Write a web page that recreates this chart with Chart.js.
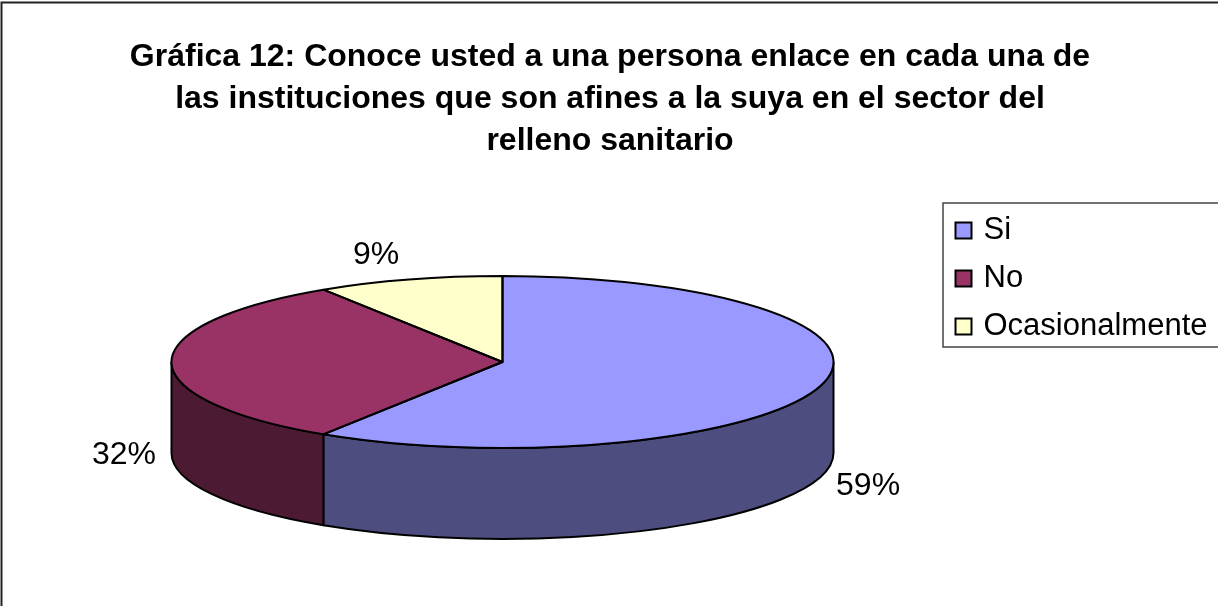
<!DOCTYPE html>
<html><head><meta charset="utf-8">
<style>html,body{margin:0;padding:0;background:#fff}canvas{display:block}</style>
<script src="https://cdn.jsdelivr.net/npm/chart.js@4"></script>
</head><body>
<div style="width:1218px;height:606px"><canvas id="c" width="1218" height="606"></canvas></div>
<script>
const titleLines = ["Gráfica 12: Conoce usted a una persona enlace en cada una de","las instituciones que son afines a la suya en el sector del","relleno sanitario"];
const categories = ["Si","No","Ocasionalmente"];
const values = [59.1,31.8,9.1];
const topColors = ["#9999FF","#993366","#FFFFCC"];
const sideColors = ["#4D4D80","#4D1A33","#808066"];

const FONT = "'Liberation Sans', Arial, sans-serif";
const G = {cx:502.5, cy:362, rx:331, ry:86, depth:91};
const labelOffset = [[48,100],[-47.5,93],[-33,-24]];

const pie3d = {
  id:'pie3d',
  afterLayout(chart){
    const l = chart.legend;
    l.left = 942; l.top = 198; l.right = 1218; l.bottom = 420;
  },
  beforeDraw(chart){
    const c = chart.ctx;
    c.save();
    c.strokeStyle = '#222'; c.lineWidth = 2;
    c.beginPath(); c.moveTo(1.5,606); c.lineTo(1.5,2.5); c.lineTo(1218,2.5); c.stroke();
    c.strokeStyle = '#444'; c.lineWidth = 1.5;
    c.beginPath(); c.moveTo(1218,203); c.lineTo(943,203); c.lineTo(943,347); c.lineTo(1218,347); c.stroke();
    c.restore();
  },
  beforeDatasetsDraw(chart){
    const c = chart.ctx, arcs = chart.getDatasetMeta(0).data;
    c.save(); c.lineWidth = 2; c.strokeStyle = '#000'; c.lineJoin='round';
    arcs.forEach((a,i)=>{
      const s = Math.max(a.startAngle,0), e = Math.min(a.endAngle,Math.PI);
      if (e<=s) return;
      c.beginPath();
      c.ellipse(G.cx,G.cy,G.rx,G.ry,0,s,e);
      c.ellipse(G.cx,G.cy+G.depth,G.rx,G.ry,0,e,s,true);
      c.closePath();
      c.fillStyle = sideColors[i];
      c.fill(); c.stroke();
    });
    c.restore();
  },
  beforeDatasetDraw(chart){
    const c = chart.ctx, a = chart.getDatasetMeta(0).data[0];
    c.save();
    c.translate(G.cx,G.cy);
    c.scale(G.rx/a.outerRadius,G.ry/a.outerRadius);
    c.translate(-a.x,-a.y);
  },
  afterDatasetDraw(chart){ chart.ctx.restore(); },
  afterDatasetsDraw(chart){
    const c = chart.ctx, arcs = chart.getDatasetMeta(0).data;
    c.save(); c.lineWidth = 2; c.strokeStyle = '#000'; c.lineJoin='round';
    arcs.forEach(a=>{
      c.beginPath();
      c.moveTo(G.cx,G.cy);
      c.ellipse(G.cx,G.cy,G.rx,G.ry,0,a.startAngle,a.endAngle);
      c.closePath();
      c.stroke();
    });
    c.fillStyle = '#000'; c.font = '32px '+FONT; c.textAlign='center'; c.textBaseline='middle';
    arcs.forEach((a,i)=>{
      const m = (a.startAngle+a.endAngle)/2;
      const x = G.cx+G.rx*Math.cos(m)+labelOffset[i][0];
      const y = G.cy+G.ry*Math.sin(m)+labelOffset[i][1];
      c.fillText(Math.round(values[i])+'%',x,y);
    });
    c.restore();
  }
};

new Chart(document.getElementById('c'),{
  type:'pie',
  data:{labels:categories,datasets:[{data:values,backgroundColor:topColors,borderWidth:0,hoverOffset:0}]},
  plugins:[pie3d],
  options:{
    responsive:false,animation:false,
    layout:{padding:{top:24,left:2,right:0,bottom:20}},
    plugins:{
      tooltip:{enabled:false},
      title:{display:true,text:titleLines,color:'#000',padding:{top:12,bottom:10},
        font:{family:FONT,size:32,weight:'bold',lineHeight:1.32}},
      legend:{display:true,position:'right',align:'start',
        labels:{color:'#000',font:{family:FONT,size:31,lineHeight:1},padding:17,boxWidth:9,boxHeight:16,
          usePointStyle:true,pointStyle:'rect',
          generateLabels(chart){
            return categories.map((t,i)=>({text:t,fillStyle:topColors[i],strokeStyle:'#000',lineWidth:2,pointStyle:'rect',index:i,hidden:false}));
          }}}
    }
  }
});
</script>
</body></html>
